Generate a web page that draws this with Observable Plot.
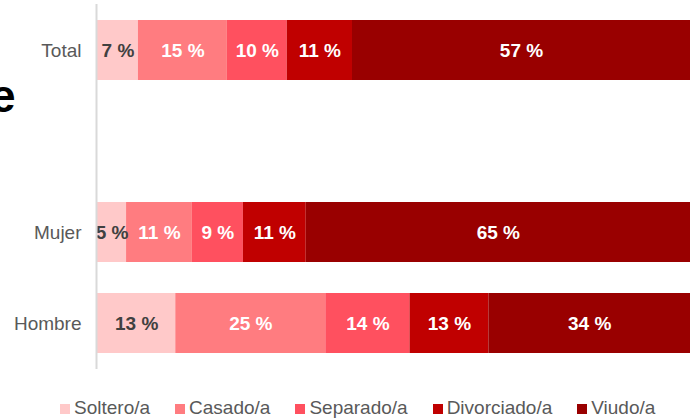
<!DOCTYPE html>
<html><head><meta charset="utf-8">
<script src="https://cdn.jsdelivr.net/npm/d3@7"></script>
<script src="https://cdn.jsdelivr.net/npm/@observablehq/plot@0.6"></script>
<style>
body{margin:0;background:#fff;font-family:"Liberation Sans",Arial,sans-serif;}
#wrap{position:relative;width:692px;height:418px;overflow:hidden;}
#frag{position:absolute;left:-10px;top:73px;font-size:46px;font-weight:bold;line-height:1;color:#000;}
#legend{position:absolute;left:60px;top:398px;display:flex;gap:25px;font-size:19px;color:#595959;line-height:19px;}
#legend .it{display:flex;align-items:center;}
#legend .sw{width:10px;height:10px;margin-right:4px;margin-top:3px;}
</style></head><body><div id="wrap"><div id="frag">e</div></div>
<script>
const groups = ["Total", "", "Mujer", "Hombre"];
const statuses = ["Soltero/a", "Casado/a", "Separado/a", "Divorciado/a", "Viudo/a"];
const colors = ["#ffc9c9", "#ff7c80", "#ff505f", "#c00000", "#990000"];
const totalValues = [6.9, 15.0, 10.1, 11.0, 57.0];
const mujerValues = [4.9, 11.1, 8.6, 10.6, 64.8];
const hombreValues = [13.2, 25.3, 14.2, 13.3, 34.0];

const series = {Total: totalValues, Mujer: mujerValues, Hombre: hombreValues};
const data = [];
for (const g of ["Total", "Mujer", "Hombre"]) {
  series[g].forEach((v, i) => data.push({group: g, status: statuses[i], value: v}));
}
const lab = d => `${Math.round(d.value)} %`;

const chart = Plot.plot({
  width: 692,
  height: 372,
  marginLeft: 97,
  marginRight: 2,
  marginTop: 4,
  marginBottom: 3,
  style: {fontFamily: '"Liberation Sans", Arial, sans-serif', background: "#fff"},
  x: {domain: [0, 100], axis: null},
  y: {domain: groups, type: "band", paddingInner: 0.341, paddingOuter: 0.17, label: null},
  color: {domain: statuses, range: colors},
  marks: [
    Plot.axisY({tickSize: 0, tickPadding: 16, fontSize: 19, fill: "#595959", label: null}),
    Plot.barX(data, Plot.stackX({x: "value", y: "group", fill: "status"})),
    Plot.text(data, Plot.stackX({x: "value", y: "group",
      text: d => d.status === statuses[0] ? lab(d) : null,
      fill: "#404040", fontSize: 19, fontWeight: "bold"})),
    Plot.text(data, Plot.stackX({x: "value", y: "group",
      text: d => d.status !== statuses[0] ? lab(d) : null,
      fill: "#ffffff", fontSize: 19, fontWeight: "bold"})),
    Plot.ruleX([0], {stroke: "#d9d9d9", strokeWidth: 2, dx: -1})
  ]
});
const wrap = document.getElementById("wrap");
wrap.insertBefore(chart, wrap.firstChild);

const leg = document.createElement("div");
leg.id = "legend";
statuses.forEach((s, i) => {
  const it = document.createElement("div"); it.className = "it";
  const sw = document.createElement("div"); sw.className = "sw"; sw.style.background = colors[i];
  const t = document.createElement("span"); t.textContent = s;
  it.appendChild(sw); it.appendChild(t); leg.appendChild(it);
});
wrap.appendChild(leg);
</script></body></html>
